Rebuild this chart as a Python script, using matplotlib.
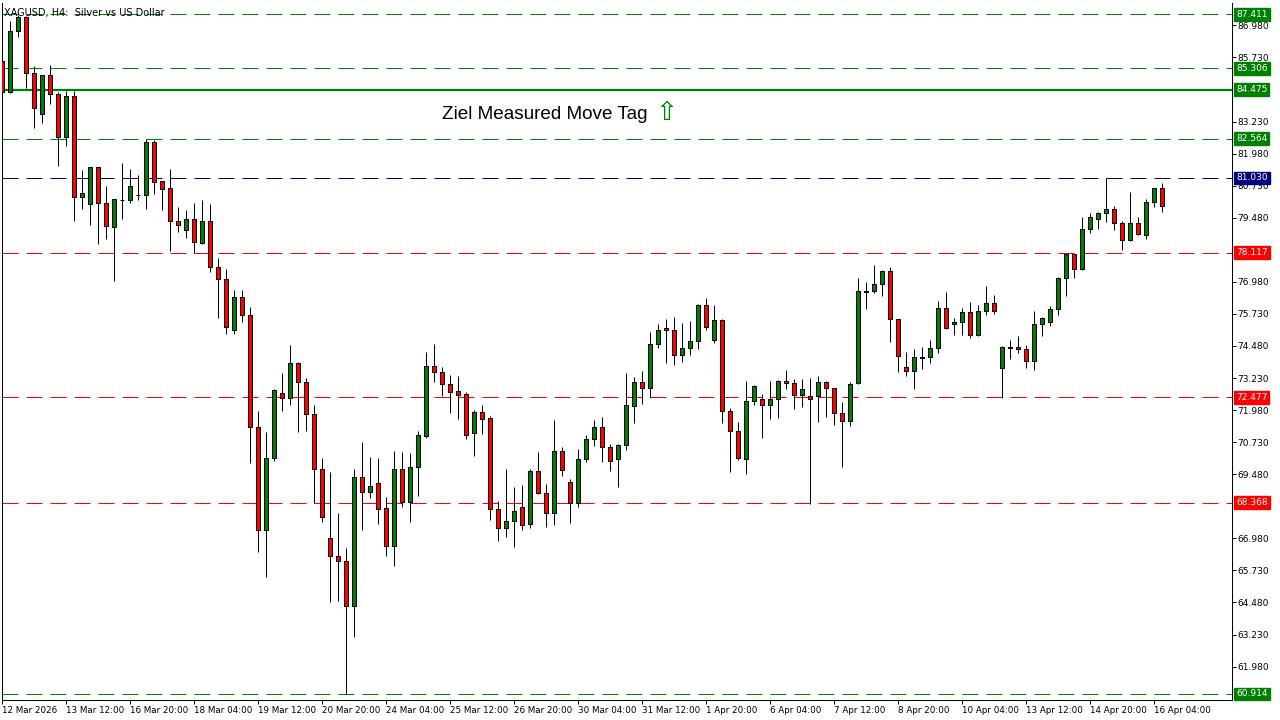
import matplotlib
matplotlib.use("Agg")
import matplotlib.pyplot as plt
import matplotlib.transforms as mtransforms

# XAGUSD H4 candles (oldest first)
opens = [85.59, 84.37, 86.76, 87.30, 85.11, 83.51, 85.03, 84.29, 82.62, 84.23,
         80.28, 80.01, 81.45, 80.04, 79.13, 80.17, 80.16, 80.36, 80.36, 82.42,
         80.90, 80.63, 79.34, 78.99, 79.42, 78.51, 79.34, 77.55, 77.08, 75.09,
         76.38, 75.68, 71.31, 67.29, 70.10, 72.64, 72.44, 73.81, 73.07, 71.82,
         69.67, 66.98, 66.28, 66.09, 64.33, 69.36, 68.80, 69.13, 68.15, 66.67,
         69.67, 68.41, 69.75, 70.98, 73.69, 73.45, 72.99, 72.71, 72.60, 71.10,
         71.91, 71.66, 68.14, 67.40, 67.67, 68.19, 67.53, 69.59, 68.74, 67.96,
         70.38, 69.17, 68.35, 70.06, 70.84, 71.31, 70.53, 70.06, 70.61, 72.15,
         73.07, 72.83, 74.55, 75.17, 75.09, 74.12, 74.39, 74.66, 76.07, 74.70,
         75.48, 71.93, 71.15, 70.09, 72.33, 72.40, 72.19, 72.40, 73.10, 73.03,
         72.56, 72.52, 72.52, 73.07, 72.83, 71.86, 71.54, 73.03, 76.60, 76.61,
         76.89, 77.39, 75.52, 73.65, 73.49, 74.03, 74.04, 74.39, 75.95, 75.33,
         75.40, 75.79, 74.90, 75.83, 76.15, 73.61, 74.42, 74.43, 74.35, 73.88,
         75.33, 75.40, 75.91, 77.12, 78.05, 77.47, 79.03, 79.42, 79.65, 79.81,
         79.26, 78.60, 79.26, 78.80, 80.08, 80.63]
highs = [85.65, 87.15, 87.40, 87.35, 85.40, 85.05, 85.44, 84.40, 84.42, 84.42,
         81.34, 81.47, 81.47, 80.72, 80.23, 81.61, 81.38, 81.15, 82.54, 82.50,
         80.93, 81.38, 79.90, 79.78, 80.06, 80.17, 80.02, 77.90, 77.48, 76.65,
         76.65, 75.99, 71.93, 71.13, 72.80, 73.43, 74.52, 73.86, 73.23, 72.17,
         70.11, 69.56, 67.97, 66.59, 69.67, 70.74, 70.15, 70.11, 68.58, 70.39,
         70.35, 70.31, 71.17, 74.25, 74.55, 73.65, 73.34, 73.30, 72.68, 71.99,
         72.18, 71.75, 68.45, 69.70, 69.00, 69.06, 69.69, 70.35, 69.09, 71.58,
         70.53, 69.28, 70.45, 71.00, 71.59, 71.70, 70.65, 70.65, 73.42, 73.27,
         73.51, 75.01, 75.34, 75.52, 75.60, 75.36, 75.44, 76.11, 76.34, 76.07,
         75.52, 72.05, 71.50, 73.12, 72.95, 72.60, 73.10, 73.14, 73.54, 73.18,
         73.21, 73.22, 73.31, 73.10, 72.85, 72.29, 73.08, 77.12, 76.96, 77.64,
         77.43, 77.56, 75.55, 74.24, 74.35, 74.43, 74.70, 76.22, 76.57, 75.56,
         75.95, 76.18, 76.07, 76.82, 76.46, 74.47, 74.70, 74.86, 74.51, 75.83,
         75.60, 76.03, 77.16, 78.08, 78.08, 79.50, 79.65, 79.69, 81.03, 79.93,
         79.34, 80.47, 79.50, 80.20, 80.65, 80.82]
lows = [84.30, 84.35, 86.54, 84.53, 82.99, 83.16, 83.92, 81.51, 82.29, 79.37,
        79.81, 79.21, 78.44, 78.64, 77.03, 79.43, 80.06, 80.17, 79.82, 80.41,
        79.78, 78.20, 78.94, 78.70, 78.10, 78.47, 77.38, 75.56, 74.94, 74.94,
        75.40, 69.91, 66.46, 65.46, 70.01, 71.96, 72.19, 71.14, 71.18, 68.35,
        67.63, 64.51, 64.55, 60.92, 63.15, 67.31, 68.57, 67.55, 66.31, 65.91,
        68.21, 67.63, 68.64, 70.91, 73.09, 72.54, 71.88, 71.65, 70.87, 70.21,
        71.06, 67.71, 66.89, 67.05, 66.65, 67.32, 67.37, 68.70, 67.43, 67.49,
        69.40, 67.59, 68.19, 69.95, 70.57, 69.97, 69.59, 68.97, 70.42, 71.49,
        72.23, 72.44, 74.39, 73.83, 73.73, 73.87, 74.12, 74.35, 75.12, 74.59,
        71.47, 69.58, 70.02, 69.50, 72.19, 70.89, 71.63, 71.67, 72.79, 72.04,
        72.11, 68.30, 71.53, 71.72, 71.41, 69.77, 71.36, 72.98, 75.94, 76.53,
        76.42, 74.65, 73.46, 73.32, 72.81, 73.57, 73.81, 74.19, 75.15, 74.90,
        74.90, 74.78, 74.88, 75.68, 75.72, 72.44, 73.96, 74.19, 73.61, 73.53,
        74.86, 75.25, 75.68, 76.44, 77.12, 77.43, 78.87, 79.03, 79.30, 78.99,
        78.21, 78.56, 78.82, 78.64, 79.89, 79.69]
closes = [84.37, 86.76, 87.30, 85.11, 83.75, 85.03, 84.29, 82.62, 84.23, 80.28,
          80.43, 81.45, 80.04, 79.15, 80.21, 80.19, 80.71, 80.38, 82.42, 80.89,
          80.61, 79.34, 79.19, 79.42, 78.52, 79.34, 77.55, 77.08, 75.21, 76.38,
          75.68, 71.31, 67.29, 70.10, 72.75, 72.44, 73.81, 73.07, 71.82, 69.67,
          67.80, 66.28, 66.09, 64.33, 69.36, 68.80, 69.01, 68.14, 66.67, 69.67,
          68.41, 69.75, 71.00, 73.70, 73.45, 72.99, 72.70, 72.58, 71.02, 71.91,
          71.65, 68.14, 67.40, 67.67, 68.06, 67.51, 69.59, 68.74, 67.96, 70.38,
          69.63, 68.35, 70.06, 70.84, 71.31, 70.53, 69.98, 70.61, 72.17, 73.07,
          72.83, 74.55, 75.09, 75.09, 74.12, 74.39, 74.66, 76.07, 75.21, 75.48,
          71.93, 71.15, 70.10, 72.33, 72.92, 72.19, 72.40, 73.10, 73.03, 72.56,
          72.79, 72.40, 73.07, 72.83, 71.86, 71.54, 73.00, 76.61, 76.62, 76.89,
          77.39, 75.52, 74.08, 73.49, 74.04, 74.05, 74.39, 75.95, 75.17, 75.40,
          75.79, 74.90, 75.83, 76.15, 75.83, 74.43, 74.44, 74.35, 73.88, 75.33,
          75.56, 75.91, 77.12, 78.05, 77.47, 79.03, 79.50, 79.65, 79.81, 79.26,
          78.60, 79.26, 78.84, 80.08, 80.63, 79.93]

# horizontal levels drawn on the chart
levels = [87.411, 85.306, 84.475, 82.564, 81.030, 78.117, 72.477, 68.368, 60.914]
level_colors = ["#008000", "#008000", "#008000", "#008000", "#000080",
                "#ff0000", "#ff0000", "#ff0000", "#008000"]
level_styles = ["dash", "dash", "solid", "dash", "dash", "dash", "dash", "dash", "dash"]

# price scale
price_ticks = [86.98, 85.73, 83.23, 81.98, 80.73, 79.48, 76.98, 75.73, 74.48,
               73.23, 71.98, 70.73, 69.48, 66.98, 65.73, 64.48, 63.23, 61.98]

# time scale (bar index -> label)
time_ticks = [0, 8, 16, 24, 32, 40, 48, 56, 64, 72, 80, 88, 96, 104, 112, 120, 128, 136, 144]
time_labels = ["12 Mar 2026", "13 Mar 12:00", "16 Mar 20:00", "18 Mar 04:00",
               "19 Mar 12:00", "20 Mar 20:00", "24 Mar 04:00", "25 Mar 12:00",
               "26 Mar 20:00", "30 Mar 04:00", "31 Mar 12:00", "1 Apr 20:00",
               "6 Apr 04:00", "7 Apr 12:00", "8 Apr 20:00", "10 Apr 04:00",
               "13 Apr 12:00", "14 Apr 20:00", "16 Apr 04:00"]

px = 0.72  # one pixel in points at 100 dpi

fig = plt.figure(figsize=(12.8, 7.2), dpi=100)
ax = fig.add_axes([2 / 1280, 20 / 720, 1230 / 1280, 697 / 720])
ax.set_xlim(-0.04, 153.71)
ax.set_ylim(60.678, 87.852)

# levels (behind candles)
for lv, col, st in zip(levels, level_colors, level_styles):
    if st == "solid":
        ax.axhline(lv, color=col, lw=1.6, zorder=1)
    else:
        ax.axhline(lv, color=col, lw=px, dashes=(16, 8), zorder=1)

# candles
xs = list(range(len(opens)))
ax.vlines(xs, lows, highs, color="black", lw=px, zorder=2)
bottoms = [min(o, c) for o, c in zip(opens, closes)]
heights = [abs(c - o) for o, c in zip(opens, closes)]
cols = ["#008000" if c >= o else "#ff0000" for o, c in zip(opens, closes)]
ax.bar(xs, heights, bottom=bottoms, width=0.52, color=cols,
       edgecolor="black", linewidth=px, zorder=3)

# axes styling like the terminal
for side in ["left", "bottom", "right"]:
    ax.spines[side].set_color("black")
    ax.spines[side].set_linewidth(px)
ax.spines["top"].set_visible(False)

ax.yaxis.tick_right()
ax.set_yticks(price_ticks)
ax.set_yticklabels([f"{t:.3f}" for t in price_ticks])
ax.tick_params(axis="y", direction="out", length=3, width=px, pad=1, labelsize=6.5)

ax.set_xticks(time_ticks)
ax.set_xticklabels(time_labels)
ax.tick_params(axis="x", direction="out", length=3, width=px, pad=1, labelsize=6.3)
for lab in ax.get_xticklabels():
    lab.set_horizontalalignment("left")

# level price tags on the right
trans = mtransforms.blended_transform_factory(ax.transAxes, ax.transData)
for lv, col in zip(levels, level_colors):
    ax.text(1.0035, lv, f"{lv:.3f}", transform=trans, ha="left", va="center",
            fontsize=6.5, color="white", clip_on=False, zorder=10,
            bbox=dict(boxstyle="square,pad=0.2", fc=col, ec=col))

# header and annotation
ax.text(0.002, 0.993, "XAGUSD, H4:  Silver vs US Dollar", transform=ax.transAxes,
        ha="left", va="top", fontsize=7, color="black")
ax.text(54.96, 83.50, "Ziel Measured Move Tag", ha="left", va="center",
        fontsize=13.6, family="Liberation Sans", color="black")
ax.text(81.7, 83.55, "\u21e7", ha="left", va="center", fontsize=19,
        family="DejaVu Sans", color="#008000")

fig.savefig("out.png", dpi=100, facecolor="white")
